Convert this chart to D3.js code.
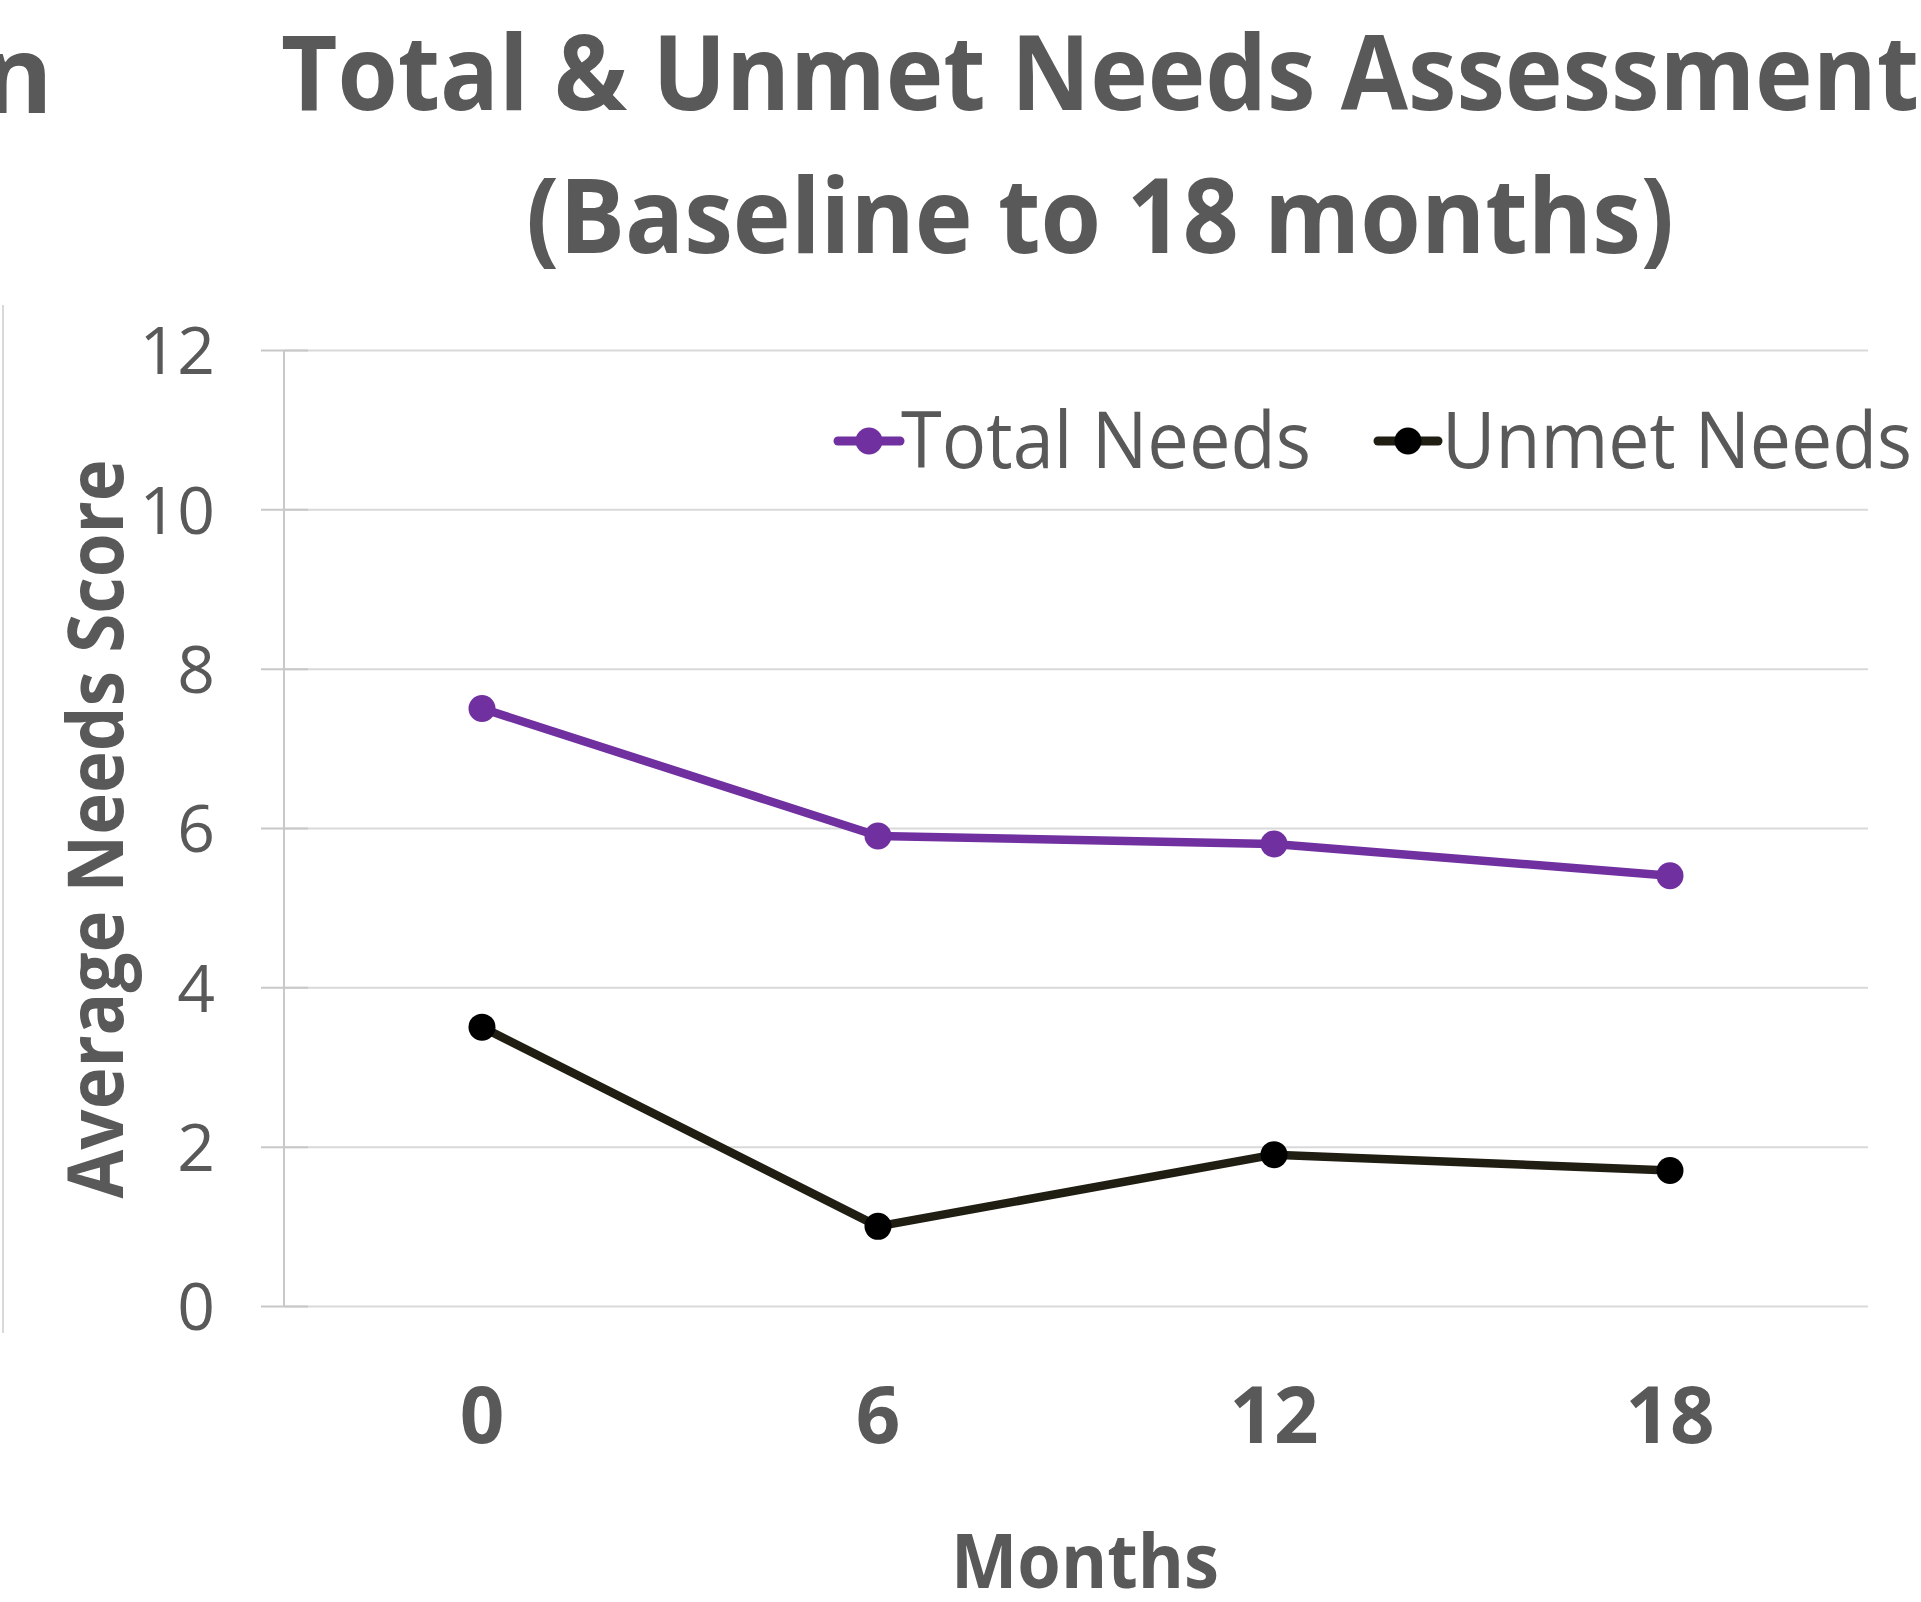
<!DOCTYPE html>
<html>
<head>
<meta charset="utf-8">
<script src="https://cdn.jsdelivr.net/npm/d3@7"></script>
<style>
  html, body { margin: 0; padding: 0; background: #fff; }
  svg { display: block; }
  text { font-family: "Open Sans", "Noto Sans", sans-serif; fill: #595959; }
</style>
</head>
<body>
<svg id="chart" width="1921" height="1602"></svg>
<script>
// ---- data ----
const months = ["0", "6", "12", "18"];
const totalNeeds = [7.5, 5.9, 5.8, 5.4];
const unmetNeeds = [3.5, 1.0, 1.9, 1.7];
const yTicks = [0, 2, 4, 6, 8, 10, 12];
const seriesNames = ["Total Needs", "Unmet Needs"];
const titleLines = ["Total & Unmet Needs Assessment", "(Baseline to 18 months)"];

// ---- layout ----
const svg = d3.select("#chart");
const plotLeft = 284, plotRight = 1868, plotTop = 350, plotBottom = 1306;

const x = d3.scaleBand().domain(months).range([plotLeft, plotRight]);
const y = d3.scaleLinear().domain([0, 12]).range([plotBottom, plotTop]);
const cx = d => x(d) + x.bandwidth() / 2;

// neighbouring chart remnants
svg.append("line").attr("x1", 3).attr("x2", 3).attr("y1", 305).attr("y2", 1333)
  .attr("stroke", "#d9d9d9").attr("stroke-width", 2);
svg.append("text").attr("x", 53).attr("y", 113).attr("text-anchor", "end")
  .attr("font-size", 108).attr("font-weight", 700).text("n");

// gridlines
const grid = svg.append("g").attr("transform", `translate(${plotRight},0)`)
  .call(d3.axisLeft(y).tickValues(yTicks).tickSize(plotRight - plotLeft).tickSizeOuter(0).tickFormat(""));
grid.select(".domain").remove();
grid.selectAll(".tick line").attr("stroke", "#d9d9d9").attr("stroke-width", 2);

// tick marks (crossing)
const ticks = svg.append("g").attr("transform", `translate(308,0)`)
  .call(d3.axisLeft(y).tickValues(yTicks).tickSize(47).tickSizeOuter(0).tickFormat(""));
ticks.select(".domain").remove();
ticks.selectAll(".tick line").attr("stroke", "#c8c8c8").attr("stroke-width", 2);

// y axis line
svg.append("line").attr("x1", plotLeft).attr("x2", plotLeft).attr("y1", y(12)).attr("y2", y(0))
  .attr("stroke", "#c8c8c8").attr("stroke-width", 2);

// y tick labels
const yl = svg.append("g").attr("transform", `translate(261,0)`)
  .call(d3.axisLeft(y).tickValues(yTicks).tickSize(0).tickPadding(46).tickSizeOuter(0));
yl.select(".domain").remove();
yl.selectAll(".tick text").attr("font-size", 66).attr("fill", "#595959")
  .attr("font-family", "Open Sans").attr("dy", "0.36em");

// x tick labels
const xl = svg.append("g").attr("transform", `translate(0,${plotBottom})`)
  .call(d3.axisBottom(x).tickSize(0).tickPadding(0).tickSizeOuter(0));
xl.select(".domain").remove();
xl.selectAll(".tick text").attr("font-size", 78).attr("font-weight", 700)
  .attr("fill", "#595959").attr("font-family", "Open Sans").attr("dy", 0).attr("y", 137);

// axis titles
svg.append("text").attr("transform", "translate(123,829) rotate(-90)")
  .attr("text-anchor", "middle").attr("font-size", 77).attr("font-weight", 700)
  .attr("textLength", 739).attr("lengthAdjust", "spacingAndGlyphs").text("Average Needs Score");
svg.append("text").attr("x", 1085).attr("y", 1588).attr("text-anchor", "middle")
  .attr("font-size", 76).attr("font-weight", 700)
  .attr("textLength", 268).attr("lengthAdjust", "spacingAndGlyphs").text("Months");

// title
svg.append("text").attr("x", 281).attr("y", 110).attr("font-size", 104).attr("font-weight", 700)
  .attr("textLength", 1638).attr("lengthAdjust", "spacingAndGlyphs").text(titleLines[0]);
svg.append("text").attr("x", 526).attr("y", 253).attr("font-size", 104).attr("font-weight", 700)
  .attr("textLength", 1148).attr("lengthAdjust", "spacingAndGlyphs").text(titleLines[1]);

// series
const series = [
  { name: seriesNames[0], values: totalNeeds, line: "#7030a0", dot: "#7030a0" },
  { name: seriesNames[1], values: unmetNeeds, line: "#201d12", dot: "#000000" }
];
const lineGen = d3.line().x((d, i) => cx(months[i])).y(d => y(d));
series.forEach(s => {
  svg.append("path").attr("d", lineGen(s.values)).attr("fill", "none")
    .attr("stroke", s.line).attr("stroke-width", 8.5).attr("stroke-linejoin", "round");
  svg.append("g").selectAll("circle").data(s.values).join("circle")
    .attr("cx", (d, i) => cx(months[i])).attr("cy", d => y(d)).attr("r", 13.5)
    .attr("fill", s.dot);
});

// legend
const legendItems = [
  { x0: 838, x1: 900, cxm: 869, tx: 901, tl: 410 },
  { x0: 1378, x1: 1438, cxm: 1408, tx: 1442, tl: 470 }
];
series.forEach((s, i) => {
  const L = legendItems[i];
  svg.append("line").attr("x1", L.x0).attr("x2", L.x1).attr("y1", 441).attr("y2", 441)
    .attr("stroke", s.line).attr("stroke-width", 9).attr("stroke-linecap", "round");
  svg.append("circle").attr("cx", L.cxm).attr("cy", 441).attr("r", 13.5).attr("fill", s.dot);
  svg.append("text").attr("x", L.tx).attr("y", 468).attr("font-size", 78)
    .attr("textLength", L.tl).attr("lengthAdjust", "spacingAndGlyphs").text(s.name);
});
</script>
</body>
</html>
